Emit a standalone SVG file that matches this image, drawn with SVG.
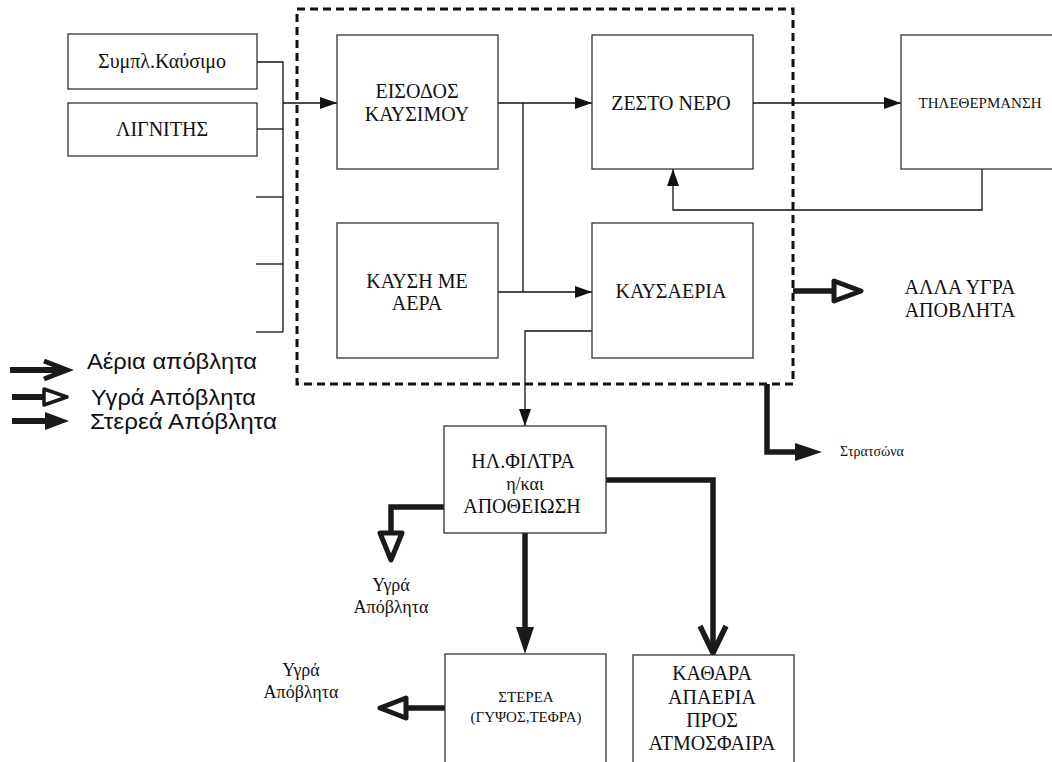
<svg xmlns="http://www.w3.org/2000/svg" width="1052" height="762" viewBox="0 0 1052 762">
<defs>
<style>
.box{fill:#fff;stroke:#333;stroke-width:1.3}
.t{fill:#111;text-anchor:middle;font-family:'Liberation Serif','Times New Roman',serif}
.s{fill:#111;font-family:'Liberation Sans',Arial,sans-serif}
.thin{fill:none;stroke:#111;stroke-width:1.3}
.thick{fill:none;stroke:#1a1a1a;stroke-width:5.5}
</style>
<marker id="ah" viewBox="0 0 17 12" refX="17" refY="6" markerWidth="17" markerHeight="12" markerUnits="userSpaceOnUse" orient="auto">
<path d="M0,0 L17,6 L0,12 Z" fill="#111"/>
</marker>
</defs>
<rect width="1052" height="762" fill="#fff"/>

<g id="container">
<rect x="297" y="9" width="496" height="375" fill="none" stroke="#111" stroke-width="3" stroke-dasharray="8,5"/>
</g>

<g id="connectors">
<polyline class="thin" points="257,62 283,62 283,332"/>
<line class="thin" x1="256" y1="129" x2="283" y2="129"/>
<line class="thin" x1="256" y1="197" x2="283" y2="197"/>
<line class="thin" x1="256" y1="264" x2="283" y2="264"/>
<line class="thin" x1="256" y1="332" x2="283" y2="332"/>
<line class="thin" x1="283" y1="103" x2="337" y2="103" marker-end="url(#ah)"/>
<line class="thin" x1="498" y1="103" x2="592" y2="103" marker-end="url(#ah)"/>
<line class="thin" x1="523" y1="103" x2="523" y2="292"/>
<line class="thin" x1="498" y1="292" x2="592" y2="292" marker-end="url(#ah)"/>
<line class="thin" x1="753" y1="103" x2="901" y2="103" marker-end="url(#ah)"/>
<polyline class="thin" points="982,169 982,210 673,210 673,169" marker-end="url(#ah)"/>
<polyline class="thin" points="592,331 525,331 525,426" marker-end="url(#ah)"/>
<line class="thick" x1="793" y1="291" x2="834" y2="291"/>
<path d="M834,281 L861,291 L834,301 Z" fill="#fff" stroke="#1a1a1a" stroke-width="5" stroke-linejoin="round"/>
<polyline class="thick" points="767,384 767,452 800,452"/>
<path d="M795,443 L822,452 L795,461 Z" fill="#1a1a1a"/>
<polyline class="thick" points="606,480 713,480 713,652"/>
<polyline points="700,626 713,653 726,626" fill="none" stroke="#1a1a1a" stroke-width="5.5" stroke-linejoin="miter"/>
<polyline class="thick" points="444,507 391,507 391,534"/>
<path d="M380,533 L402,533 L391,560 Z" fill="#fff" stroke="#1a1a1a" stroke-width="5" stroke-linejoin="round"/>
<line class="thick" x1="525" y1="533" x2="525" y2="630"/>
<path d="M516,627 L534,627 L525,654 Z" fill="#1a1a1a"/>
<line class="thick" x1="445" y1="708" x2="404" y2="708"/>
<path d="M406,698 L406,718 L380,708 Z" fill="#fff" stroke="#1a1a1a" stroke-width="5" stroke-linejoin="round"/>
</g>

<g id="legend">
<line x1="10" y1="370" x2="64" y2="370" stroke="#1a1a1a" stroke-width="6"/>
<polyline points="44,361 67,370 44,379" fill="none" stroke="#1a1a1a" stroke-width="5"/>
<text class="s" x="87" y="369" font-size="22" textLength="170" lengthAdjust="spacingAndGlyphs">Αέρια απόβλητα</text>
<line x1="12" y1="397" x2="44" y2="397" stroke="#1a1a1a" stroke-width="6"/>
<path d="M44,389 L67,397 L44,405 Z" fill="#fff" stroke="#1a1a1a" stroke-width="3.5" stroke-linejoin="round"/>
<text class="s" x="91" y="405" font-size="22" textLength="165" lengthAdjust="spacingAndGlyphs">Υγρά Απόβλητα</text>
<line x1="12" y1="421" x2="46" y2="421" stroke="#1a1a1a" stroke-width="6"/>
<path d="M45,412 L69,421 L45,430 Z" fill="#1a1a1a"/>
<text class="s" x="90" y="429" font-size="22" textLength="187" lengthAdjust="spacingAndGlyphs">Στερεά Απόβλητα</text>
</g>

<g id="n-symplkausimo">
<rect class="box" x="68" y="34" width="189" height="55"/>
<text class="t" x="162" y="68" font-size="20">Συμπλ.Καύσιμο</text>
</g>
<g id="n-lignitis">
<rect class="box" x="68" y="103" width="189" height="53"/>
<text class="t" x="162" y="136" font-size="20">ΛΙΓΝΙΤΗΣ</text>
</g>
<g id="n-eisodos">
<rect class="box" x="337" y="35" width="161" height="134"/>
<text class="t" x="417" y="98" font-size="20">ΕΙΣΟΔΟΣ</text>
<text class="t" x="417" y="121" font-size="20">ΚΑΥΣΙΜΟΥ</text>
</g>
<g id="n-zestonero">
<rect class="box" x="592" y="35" width="161" height="134"/>
<text class="t" x="671" y="110" font-size="20">ΖΕΣΤΟ ΝΕΡΟ</text>
</g>
<g id="n-tilethermansi">
<rect class="box" x="901" y="35" width="160" height="134"/>
<text class="t" x="980" y="108" font-size="15">ΤΗΛΕΘΕΡΜΑΝΣΗ</text>
</g>
<g id="n-kausi">
<rect class="box" x="337" y="223" width="161" height="135"/>
<text class="t" x="417" y="288" font-size="20">ΚΑΥΣΗ ΜΕ</text>
<text class="t" x="417" y="310" font-size="20">ΑΕΡΑ</text>
</g>
<g id="n-kausaeria">
<rect class="box" x="592" y="223" width="161" height="135"/>
<text class="t" x="671" y="298" font-size="20">ΚΑΥΣΑΕΡΙΑ</text>
</g>
<g id="n-allaygra">
<text class="t" x="960" y="294" font-size="20">ΑΛΛΑ ΥΓΡΑ</text>
<text class="t" x="960" y="317" font-size="20">ΑΠΟΒΛΗΤΑ</text>
</g>
<g id="n-stratsona">
<text class="t" x="872" y="456" font-size="14">Στρατσώνα</text>
</g>
<g id="n-filtra">
<rect class="box" x="444" y="426" width="162" height="107"/>
<text class="t" x="523" y="468" font-size="20">ΗΛ.ΦΙΛΤΡΑ</text>
<text class="t" x="525" y="490" font-size="18">η/και</text>
<text class="t" x="522" y="513" font-size="20">ΑΠΟΘΕΙΩΣΗ</text>
</g>
<g id="n-ygra1">
<text class="t" x="391" y="591" font-size="18">Υγρά</text>
<text class="t" x="391" y="613" font-size="18">Απόβλητα</text>
</g>
<g id="n-sterea">
<rect class="box" x="445" y="654" width="161" height="120"/>
<text class="t" x="526" y="702" font-size="15">ΣΤΕΡΕΑ</text>
<text class="t" x="526" y="722" font-size="15">(ΓΥΨΟΣ,ΤΕΦΡΑ)</text>
</g>
<g id="n-ygra2">
<text class="t" x="301" y="676" font-size="18">Υγρά</text>
<text class="t" x="301" y="698" font-size="18">Απόβλητα</text>
</g>
<g id="n-kathara">
<rect class="box" x="633" y="655" width="161" height="120"/>
<text class="t" x="712" y="680" font-size="20">ΚΑΘΑΡΑ</text>
<text class="t" x="712" y="704" font-size="20">ΑΠΑΕΡΙΑ</text>
<text class="t" x="712" y="727" font-size="20">ΠΡΟΣ</text>
<text class="t" x="712" y="750" font-size="20">ΑΤΜΟΣΦΑΙΡΑ</text>
</g>
</svg>
